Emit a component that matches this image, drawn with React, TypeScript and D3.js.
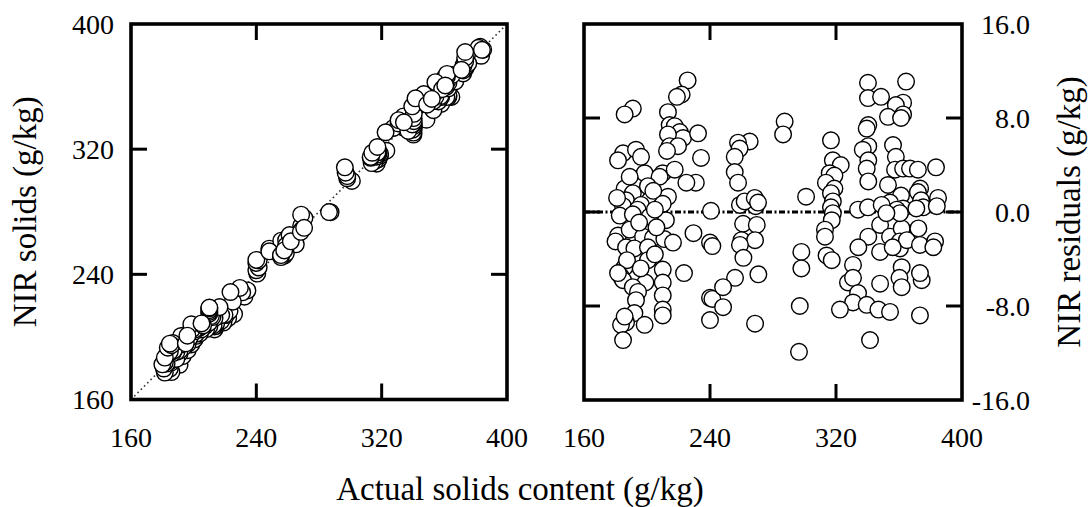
import React from "react";
import * as d3 from "d3";

// Reference (oven-dried) solids content of each sample, g/kg
const actualSolids = [
  // 180–235 g/kg group
  225.8, 222, 219, 191, 185.8, 213.3, 214.4, 217.6, 220.8, 222.9, 213.3, 214.4, 219.7, 232.4, 212.7,
  234.3, 184.8, 193, 196.2, 181.6, 198.5, 210, 217.6, 208, 185.8, 200.6, 191, 186.7, 201.7, 213.3,
  196.2, 207, 184.8, 231, 225, 240.6, 189, 204, 194, 181, 210,
  182.7, 191, 201.7, 212, 205, 181.6, 180, 189, 197.5, 203.8, 211, 216.5, 186.7, 192, 200.6,
  185.8, 187.3, 200.6, 210, 210, 183.5, 184.8, 181.6, 199, 191, 194.3, 193, 210, 210, 210,
  192, 186.7, 183.5, 185.8, 198.5, 184.8, 229.5, 223.5, 195, 206, 205, 196,
  // 240–272 g/kg group
  240, 241.5, 240, 241.5, 248.3, 240, 255.9, 248.3, 261, 269.7, 260, 268.6, 259, 261.2, 259,
  269, 270.7, 268.6, 265.2, 257.8, 258.8, 255.7, 255.7, 257.8, 262, 268.4, 270.5,
  // 285–302 g/kg group
  287.4, 286.4, 301, 298, 298, 297, 296.5,
  // 312–335 g/kg group
  316.8, 318, 323, 316, 319, 313.6, 319, 316.8, 318, 316.8, 318, 317.3, 313, 313, 314,
  317.3, 334, 330.8, 327.6, 330.8, 334, 330.8, 322.5,
  // 335–385 g/kg group
  340.3, 340.3, 348.6, 364.5, 362.6, 358, 353, 362.6, 361.3, 340.5, 339.5, 340.5, 337, 340.5, 339.5,
  340.5, 356.2, 358, 357.5, 362.6, 367, 372, 383.5, 353, 373.4, 372, 361.3, 384.8, 374, 354.3,
  362.6, 375.3, 340.3,
  340.5, 334.2, 348, 348, 354.3, 361.7, 360.6, 360.6, 365, 356, 372.3, 373.3, 382.9, 381.8, 361.7,
  360.3, 361.7, 374.4, 373.3, 348, 339.5, 346.9, 354.3, 373.3, 341.6, 358.6, 360.6, 371, 384, 349,
  352,
];

// NIR residual (reference minus NIR prediction) of each sample, g/kg
const nirResiduals = [
  11.2, 10.0, 9.8, 8.8, 8.3, 8.5, 7.4, 7.3, 6.8, 6.3, 6.6, 5.6, 5.6, 6.7, 5.2,
  4.6, 5.0, 5.3, 4.7, 4.4, 3.3, 3.3, 3.6, 3.0, 2.0, 2.2, 1.6, 1.0, 1.0, 1.3,
  0.6, 0.3, 0.5, 2.5, 2.5, 0.1, 3.0, 1.8, 0.2, 1.2, 0.7,
  -0.3, -0.2, -0.4, -0.7, 0.2, -2.0, -2.5, -1.5, -2.1, -2.2, -2.3, -2.6, -3.0, -3.1, -3.0,
  -4.7, -4.1, -4.1, -4.9, -6.0, -5.5, -5.8, -5.2, -6.0, -6.4, -6.8, -7.5, -7.1, -8.3, -8.8,
  -8.6, -9.4, -9.6, -8.9, -9.6, -10.9, -1.8, -5.2, -0.9, -1.3, -3.6, -4.8,
  -2.6, -2.9, -7.3, -7.4, -8.1, -9.2, -5.6, -6.4, -1.0, -1.1, -2.4, -2.4, -2.8, -3.9, 0.6,
  0.5, -5.3, -9.5, 6.0, 5.9, 5.4, 4.7, 3.4, 2.5, 0.9, 1.2, 0.8,
  7.7, 6.6, 1.3, -3.4, -4.8, -8.0, -11.9,
  6.1, 4.4, 4.0, 3.3, 3.1, 2.5, 2.0, 1.6, 0.9, 0.4, -0.1, -0.7, -1.5, -2.1, -3.7,
  -4.1, 0.2, -4.5, -6.0, -5.6, -6.9, -7.7, -8.3,
  11.0, 9.7, 9.8, 11.1, 9.3, 9.1, 8.1, 8.3, 8.0, 7.4, 7.1, 5.6, 5.3, 4.4, 3.7,
  2.6, 5.7, 4.7, 3.6, 3.7, 3.7, 3.6, 3.8, 2.3, 2.0, 1.7, 1.4, 1.2, 1.0, 0.8,
  0.3, 0.4, 0.4,
  -2.1, -3.0, -1.1, -3.4, -2.1, -1.4, -2.5, -3.1, -2.4, -3.0, -1.4, -2.8, -2.5, -3.0, -4.7,
  -5.6, -6.4, -5.8, -5.2, -6.1, -7.9, -8.3, -8.5, -8.8, -10.9, 0.2, -0.1, 0.3, 0.5, 0.6,
  -0.1,
];

// NIR-predicted solids follow from the reference value and its residual
const nirSolids = actualSolids.map((a, i) => a - nirResiduals[i]);

const solidsTicks = [160, 240, 320, 400];
const residualTicks = [16, 8, 0, -8, -16];

const FONT = "'Liberation Serif', 'Times New Roman', serif";
const TICK_LEN = 16;
const R = 8.3;

const xLeft = d3.scaleLinear().domain([160, 400]).range([131, 507]);
const yLeft = d3.scaleLinear().domain([160, 400]).range([399.5, 24]);
const xRight = d3.scaleLinear().domain([160, 400]).range([584, 962]);
const yRight = d3.scaleLinear().domain([-16, 16]).range([400, 24]);

const fmtResidual = (v: number) => v.toFixed(1);

type Lin = d3.ScaleLinear<number, number>;

function Frame({ x, y, xTicks, yTicks }: { x: Lin; y: Lin; xTicks: number[]; yTicks: number[] }) {
  const [x0, x1] = x.range();
  const [y1, y0] = y.range();
  return (
    <g stroke="#000" fill="none">
      {xTicks.map((t) => (
        <g key={"x" + t} strokeWidth={3}>
          <line x1={x(t)} x2={x(t)} y1={y0} y2={y0 + TICK_LEN} />
          <line x1={x(t)} x2={x(t)} y1={y1} y2={y1 - TICK_LEN} />
        </g>
      ))}
      {yTicks.map((t) => (
        <g key={"y" + t} strokeWidth={3}>
          <line x1={x0} x2={x0 + TICK_LEN} y1={y(t)} y2={y(t)} />
          <line x1={x1} x2={x1 - TICK_LEN} y1={y(t)} y2={y(t)} />
        </g>
      ))}
      <rect x={x0} y={y0} width={x1 - x0} height={y1 - y0} strokeWidth={3.6} />
    </g>
  );
}

export default function App() {
  return (
    <svg
      width={1089}
      height={507}
      style={{ position: "absolute", left: 0, top: 0, background: "#fff" }}
      fontFamily={FONT}
    >
      {/* Left: NIR prediction against reference value */}
      <line
        x1={xLeft(160)}
        y1={yLeft(160)}
        x2={xLeft(400)}
        y2={yLeft(400)}
        stroke="#333"
        strokeWidth={1.6}
        strokeDasharray="1.6 3"
      />
      <g fill="#fff" stroke="#000" strokeWidth={1.4}>
        {actualSolids.map((a, i) => (
          <circle key={i} cx={xLeft(a)} cy={yLeft(nirSolids[i])} r={R} />
        ))}
      </g>
      <Frame x={xLeft} y={yLeft} xTicks={[240, 320]} yTicks={[240, 320]} />
      <g fontSize={28} textAnchor="end">
        {solidsTicks.map((t) => (
          <text key={t} x={114} y={yLeft(t)} dy="0.34em">
            {t}
          </text>
        ))}
      </g>
      <g fontSize={28} textAnchor="middle">
        {solidsTicks.map((t) => (
          <text key={t} x={xLeft(t)} y={447}>
            {t}
          </text>
        ))}
      </g>
      <text fontSize={33} textAnchor="middle" transform={`translate(36,${yLeft(280)}) rotate(-90)`}>
        NIR solids (g/kg)
      </text>

      {/* Right: residuals against reference value */}
      <line
        x1={xRight(160)}
        x2={xRight(400)}
        y1={yRight(0)}
        y2={yRight(0)}
        stroke="#000"
        strokeWidth={3}
        strokeDasharray="6 2.5 2 2.5"
      />
      <g fill="#fff" stroke="#000" strokeWidth={1.4}>
        {actualSolids.map((a, i) => (
          <circle key={i} cx={xRight(a)} cy={yRight(nirResiduals[i])} r={R} />
        ))}
      </g>
      <Frame x={xRight} y={yRight} xTicks={[240, 320]} yTicks={[-8, 0, 8]} />
      <g fontSize={28} textAnchor="end">
        {residualTicks.map((t) => (
          <text key={t} x={1030} y={yRight(t)} dy="0.34em">
            {fmtResidual(t)}
          </text>
        ))}
      </g>
      <g fontSize={28} textAnchor="middle">
        {solidsTicks.map((t) => (
          <text key={t} x={xRight(t)} y={447}>
            {t}
          </text>
        ))}
      </g>
      <text fontSize={33} textAnchor="middle" transform={`translate(1080,${yRight(0)}) rotate(-90)`}>
        NIR residuals (g/kg)
      </text>

      <text fontSize={33} textAnchor="middle" x={520} y={500}>
        Actual solids content (g/kg)
      </text>
    </svg>
  );
}
